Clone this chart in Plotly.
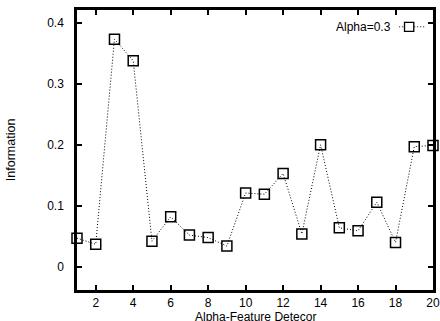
import plotly.graph_objects as go

detector = list(range(1, 21))
information = [0.047, 0.037, 0.373, 0.338, 0.042, 0.082, 0.052, 0.048, 0.034, 0.121,
               0.119, 0.153, 0.054, 0.200, 0.064, 0.059, 0.106, 0.040, 0.197, 0.199]
x_ticks = [2, 4, 6, 8, 10, 12, 14, 16, 18, 20]
y_ticks = [0, 0.1, 0.2, 0.3, 0.4]
y_tick_labels = ["0", "0.1", "0.2", "0.3", "0.4"]
series_name = "Alpha=0.3"
x_title = "Alpha-Feature Detecor"
y_title = "Information"

font = "Liberation Sans, Arial, Helvetica, sans-serif"

fig = go.Figure()
fig.add_trace(go.Scatter(
    x=detector, y=information, mode="lines+markers", name=series_name,
    line=dict(color="black", width=1, dash="1px,2px"),
    marker=dict(symbol="square-open", size=10, color="black", line=dict(width=1.5, color="black")),
    cliponaxis=False, showlegend=False,
))

axis_common = dict(
    showline=True, linecolor="black", linewidth=2.5, mirror="ticks",
    ticks="inside", ticklen=5, tickwidth=1.5, tickcolor="black",
    showgrid=False, zeroline=False, automargin=False,
    tickfont=dict(family=font, size=12, color="black"),
)

fig.update_layout(
    width=440, height=321,
    margin=dict(l=77, r=7, t=10, b=31),
    paper_bgcolor="white", plot_bgcolor="white",
    font=dict(family=font, color="black"),
    xaxis=dict(range=[1, 20], tickvals=x_ticks, ticklabelstandoff=0, **axis_common),
    yaxis=dict(range=[-0.038, 0.421], tickvals=y_ticks, ticktext=y_tick_labels,
               ticklabelstandoff=8, **axis_common),
    annotations=[
        dict(xref="paper", yref="paper", x=0.887, y=0.94, xanchor="right",
             yanchor="middle", text=series_name, showarrow=False,
             font=dict(size=12, family=font)),
        dict(xref="paper", yref="paper", x=0.5, y=-0.097, xanchor="center",
             yanchor="middle", text=x_title, showarrow=False,
             font=dict(size=12, family=font)),
        dict(xref="paper", yref="paper", x=-0.185, y=0.5, xanchor="center",
             yanchor="middle", text=y_title, showarrow=False, textangle=-90,
             font=dict(size=12.5, family=font)),
    ],
    shapes=[
        dict(type="line", xref="paper", yref="paper", x0=0.905, x1=0.978, y0=0.94, y1=0.94,
             line=dict(color="black", width=1, dash="1px,2px")),
        dict(type="rect", xref="paper", yref="paper", x0=0.92, x1=0.946, y0=0.924, y1=0.956,
             line=dict(color="black", width=1.3), fillcolor="white"),
    ],
)

fig.write_html("out.html")
